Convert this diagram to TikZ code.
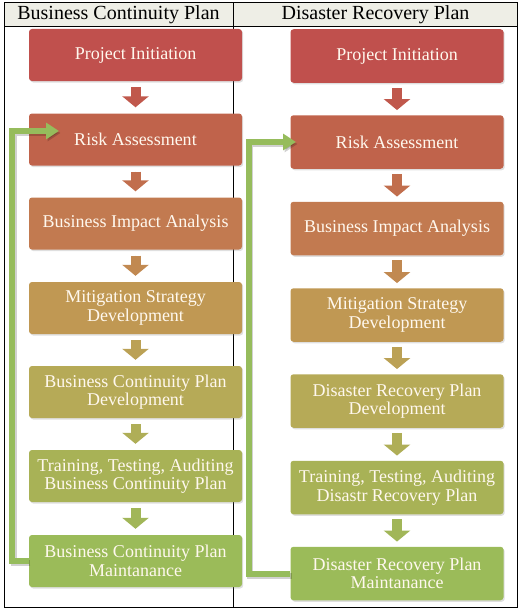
\documentclass[tikz,border=0pt]{standalone}
\usepackage{fontspec}
\setmainfont{Liberation Serif}
\usetikzlibrary{arrows.meta,shadows,calc}
\definecolor{c1}{HTML}{C0504D}
\definecolor{c2}{HTML}{C0634B}
\definecolor{c3}{HTML}{C27A50}
\definecolor{c4}{HTML}{C09853}
\definecolor{c5}{HTML}{B6AA57}
\definecolor{c6}{HTML}{A8B256}
\definecolor{c7}{HTML}{9BBB59}
\definecolor{hdr}{HTML}{EEEEE6}
\definecolor{txt}{HTML}{FFF8EE}
\definecolor{loopgreen}{HTML}{96BC5C}
\tikzset{
  box/.style={draw=none, rounded corners=3pt, minimum width=213pt, inner sep=1pt,
    text=txt, align=center, font=\fontsize{18}{18.5}\selectfont,
    drop shadow={opacity=0.25, shadow xshift=1.2pt, shadow yshift=-1.5pt}},
  boxL/.style={box, minimum height=52pt},
  boxR/.style={box, minimum height=53.5pt},
  downarrow/.style={line width=10pt, -{Triangle[length=11pt,width=26pt]}},
  loopline/.style={draw=loopgreen, line width=6pt, line join=miter,
    -{Triangle[length=13pt,width=16pt]},
    preaction={draw=black, opacity=0.18, line width=6pt,
      transform canvas={shift={(1.5pt,-2pt)}}}},
  hdrtext/.style={font=\fontsize{20}{22}\selectfont, text=black, inner sep=0pt}
}
\begin{document}
\begin{tikzpicture}[x=1pt,y=-1pt]
\useasboundingbox (0,0) rectangle (523,610);
% header
\fill[hdr] (4,3) rectangle (517,26);
\node[hdrtext] (h1) at (118.5,15) {Business Continuity Plan};
\node[hdrtext] (h2) at (375.5,15) {Disaster Recovery Plan};
% divider and frame
\draw[line width=0.9pt] (233.5,3) -- (233.5,607);
\draw[line width=0.9pt] (4,26) -- (517,26);
\draw[line width=1pt] (4,3) rectangle (517,607);
% connectors (loops) behind boxes
\coordinate (t1) at (59,131);
\coordinate (t2) at (296,142);
% left column boxes
\node[boxL, fill=c1] (l1) at (135.5,55)  {Project Initiation};
\node[boxL, fill=c2] (l2) at (135.5,139.5) {Risk Assessment};
\node[boxL, fill=c3] (l3) at (135.5,223.5) {Business Impact Analysis};
\node[boxL, fill=c4] (l4) at (135.5,308) {Mitigation Strategy\\Development};
\node[boxL, fill=c5] (l5) at (135.5,392) {Business Continuity Plan\\Development};
\node[boxL, fill=c6] (l6) at (135.5,476) {Training, Testing, Auditing\\Business Continuity Plan};
\node[boxL, fill=c7] (l7) at (135.5,561) {Business Continuity Plan\\Maintanance};
% right column boxes
\node[boxR, fill=c1] (r1) at (397,56)  {Project Initiation};
\node[boxR, fill=c2] (r2) at (397,142) {Risk Assessment};
\node[boxR, fill=c3] (r3) at (397,228.5) {Business Impact Analysis};
\node[boxR, fill=c4] (r4) at (397,315) {Mitigation Strategy\\Development};
\node[boxR, fill=c5] (r5) at (397,401) {Disaster Recovery Plan\\Development};
\node[boxR, fill=c6] (r6) at (397,487.5) {Training, Testing, Auditing\\Disastr Recovery Plan};
\node[boxR, fill=c7] (r7) at (397,573.5) {Disaster Recovery Plan\\Maintanance};
% loop connectors
\draw[loopline] (l7.west) -| (12,131) -- (t1);
\draw[loopline] (r7.west) -| (248.5,142) -- (t2);
% down arrows left
\foreach \a/\b/\c in {l1/l2/c1!60!c2, l2/l3/c2!50!c3, l3/l4/c3!50!c4, l4/l5/c4!50!c5, l5/l6/c5!50!c6, l6/l7/c6!50!c7}{
  \draw[downarrow, draw=\c, fill=\c] ([yshift=-6pt]\a.south) -- ([yshift=6pt]\b.north);
}
\foreach \a/\b/\c in {r1/r2/c1!60!c2, r2/r3/c2!50!c3, r3/r4/c3!50!c4, r4/r5/c4!50!c5, r5/r6/c5!50!c6, r6/r7/c6!50!c7}{
  \draw[downarrow, draw=\c, fill=\c] ([yshift=-5pt]\a.south) -- ([yshift=5pt]\b.north);
}
\end{tikzpicture}
\end{document}
